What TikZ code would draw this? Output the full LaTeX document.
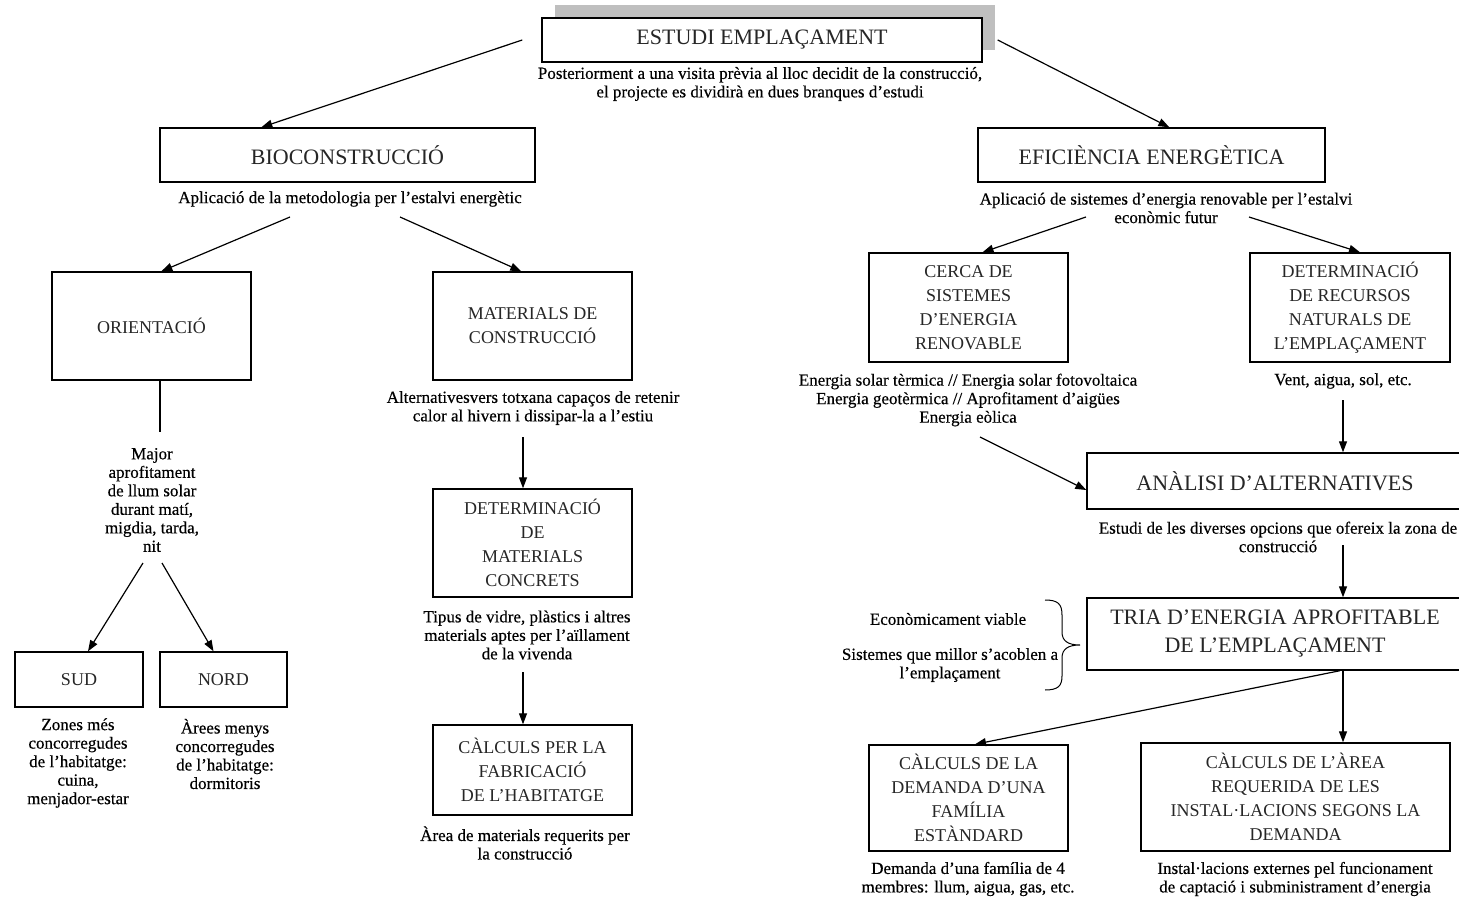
\documentclass[tikz,border=0pt]{standalone}
\usepackage{fontspec}
\setmainfont{Liberation Serif}
\newfontfamily\capfont[FakeBold=0.4]{Liberation Serif}
\usetikzlibrary{arrows.meta,calc}
\begin{document}
\begin{tikzpicture}[x=1pt,y=-1pt,
  box/.style={draw, line width=1.4pt, fill=white, inner sep=0pt, align=center, text=black!85},
  bigtxt/.style={font=\fontsize{22}{28}\selectfont},
  smltxt/.style={font=\fontsize{18}{24}\selectfont},
  capt/.style={align=center, inner sep=0pt, font=\capfont\fontsize{17}{18.5}\selectfont},
  arr/.style={line width=1.2pt, -{Triangle[length=11pt,width=8pt]}},
  ln/.style={line width=1.2pt}]
\useasboundingbox (0,0) rectangle (1459,899);
\fill[white] (0,0) rectangle (1459,899);
% shadow of top box
\fill[black!25] (555,5) rectangle (995,50);
% ---------- boxes ----------
\node[box,bigtxt,minimum width=440pt,minimum height=44pt] (est) at (762,40) {ESTUDI EMPLAÇAMENT};
\node[box,bigtxt,minimum width=375pt,minimum height=54pt] (bio) at (347.5,155) {BIOCONSTRUCCIÓ};
\node[box,bigtxt,minimum width=347pt,minimum height=54pt] (efi) at (1151.5,155) {EFICIÈNCIA ENERGÈTICA};
\node[box,smltxt,minimum width=199pt,minimum height=108pt] (ori) at (151.5,326) {ORIENTACIÓ};
\node[box,smltxt,minimum width=199pt,minimum height=108pt] (mat) at (532.5,326) {MATERIALS DE\\CONSTRUCCIÓ};
\node[box,smltxt,minimum width=199pt,minimum height=108pt] (det) at (532.5,543) {DETERMINACIÓ\\DE\\MATERIALS\\CONCRETS};
\node[box,smltxt,minimum width=199pt,minimum height=90pt] (calc) at (532.5,770) {CÀLCULS PER LA\\FABRICACIÓ\\DE L’HABITATGE};
\node[box,smltxt,minimum width=128pt,minimum height=55pt] (sud) at (79,679.5) {SUD};
\node[box,smltxt,minimum width=127pt,minimum height=55pt] (nord) at (223.5,679.5) {NORD};
\node[box,smltxt,minimum width=199pt,minimum height=109pt] (cerca) at (968.5,307.5) {CERCA DE\\SISTEMES\\D’ENERGIA\\RENOVABLE};
\node[box,smltxt,minimum width=200pt,minimum height=109pt] (rec) at (1350,307.5) {DETERMINACIÓ\\DE RECURSOS\\NATURALS DE\\L’EMPLAÇAMENT};
\node[box,bigtxt,minimum width=388pt,minimum height=56pt] (ana) at (1281,481) {\hspace*{-12pt}ANÀLISI D’ALTERNATIVES};
\node[box,bigtxt,minimum width=388pt,minimum height=72pt] (tria) at (1281,634) {\hspace*{-12pt}TRIA D’ENERGIA APROFITABLE\\\hspace*{-12pt}DE L’EMPLAÇAMENT};
\node[box,smltxt,minimum width=199pt,minimum height=106pt] (dem) at (968.5,798) {CÀLCULS DE LA\\DEMANDA D’UNA\\FAMÍLIA\\ESTÀNDARD};
\node[box,smltxt,minimum width=309pt,minimum height=108pt] (area) at (1295.5,797) {CÀLCULS DE L’ÀREA\\REQUERIDA DE LES\\INSTAL·LACIONS SEGONS LA\\DEMANDA};
% ---------- captions ----------
\node[capt] (cap0) at (760,84) {Posteriorment a una visita prèvia al lloc decidit de la construcció,\\el projecte es dividirà en dues branques d’estudi};
\node[capt] (capbio) at (350,199) {Aplicació de la metodologia per l’estalvi energètic};
\node[capt] (capefi) at (1166,208) {Aplicació de sistemes d’energia renovable per l’estalvi\\econòmic futur};
\node[capt] (capmat) at (533,408) {Alternativesvers totxana capaços de retenir\\calor al hivern i dissipar-la a l’estiu};
\node[capt] (maj) at (152,500) {Major\\aprofitament\\de llum solar\\durant matí,\\migdia, tarda,\\nit};
\node[capt] (capsud) at (78,763) {Zones més\\concorregudes\\de l’habitatge:\\cuina,\\menjador-estar};
\node[capt] (capnord) at (225,754) {Àrees menys\\concorregudes\\de l’habitatge:\\dormitoris};
\node[capt] (capdet) at (527,635) {Tipus de vidre, plàstics i altres\\materials aptes per l’aïllament\\de la vivenda};
\node[capt] (capcalc) at (525,843) {Àrea de materials requerits per\\la construcció};
\node[capt] (capcerca) at (968,400) {Energia solar tèrmica // Energia solar fotovoltaica\\Energia geotèrmica // Aprofitament d’aigües\\Energia eòlica};
\node[capt] (caprec) at (1343,381) {Vent, aigua, sol, etc.};
\node[capt] (capana) at (1278,537) {Estudi de les diverses opcions que ofereix la zona de\\construcció};
\node[capt] (eco) at (948,619) {Econòmicament viable};
\node[capt] (sist) at (950,665) {Sistemes que millor s’acoblen a\\l’emplaçament};
\node[capt] (capdem) at (968,879) {Demanda d’una família de 4\\membres: llum, aigua, gas, etc.};
\node[capt] (caparea) at (1295,879) {Instal·lacions externes pel funcionament\\de captació i subministrament d’energia};
% ---------- connector tails ----------
\coordinate (t3) at (290,217);
\coordinate (t4) at (400,217);
\coordinate (t5) at (160,432);
\coordinate (t6) at (143,563);
\coordinate (t7) at (162,563);
\coordinate (t8) at (523,437);
\coordinate (t9) at (523,672);
\coordinate (t10) at (1086,217);
\coordinate (t11) at (1249,217);
\coordinate (t12) at (1343,400);
\coordinate (t13) at (980,437);
\coordinate (t14) at (1343,545);
% ---------- connectors ----------
\draw[arr] ([xshift=-19pt]est.west) -- ([xshift=102pt]bio.north west);
\draw[arr] ([xshift=15pt]est.east) -- ([xshift=192pt]efi.north west);
\draw[arr] (t3) -- ([xshift=110pt]ori.north west);
\draw[arr] (t4) -- ([xshift=89pt]mat.north west);
\draw[ln] ([xshift=8.5pt]ori.south) -- (t5);
\draw[arr] (t6) -- ([xshift=9pt]sud.north);
\draw[arr] (t7) -- ([xshift=-10pt]nord.north);
\draw[arr] (t8) -- (t8 |- det.north);
\draw[arr] (t9) -- (t9 |- calc.north);
\draw[arr] (t10) -- ([xshift=14pt]cerca.north);
\draw[arr] (t11) -- ([xshift=10pt]rec.north);
\draw[arr] (t12) -- (t12 |- ana.north);
\draw[arr] (t13) -- ([yshift=-9pt]ana.west);
\draw[arr] (t14) -- (t14 |- tria.north);
\draw[arr] ([xshift=59pt]tria.south) -- ([xshift=6.5pt]dem.north);
\draw[arr] ([xshift=62pt]tria.south) -- ([xshift=47.5pt]area.north);
% ---------- brace ----------
\draw[line width=1pt] (1045,600) .. controls (1058,600) and (1062,604) .. (1062,615) -- (1062,632)
  .. controls (1062,641) and (1068,645) .. (1080,645)
  .. controls (1068,645) and (1062,649) .. (1062,658) -- (1062,676)
  .. controls (1062,686) and (1058,690) .. (1045,690);
\end{tikzpicture}
\end{document}
